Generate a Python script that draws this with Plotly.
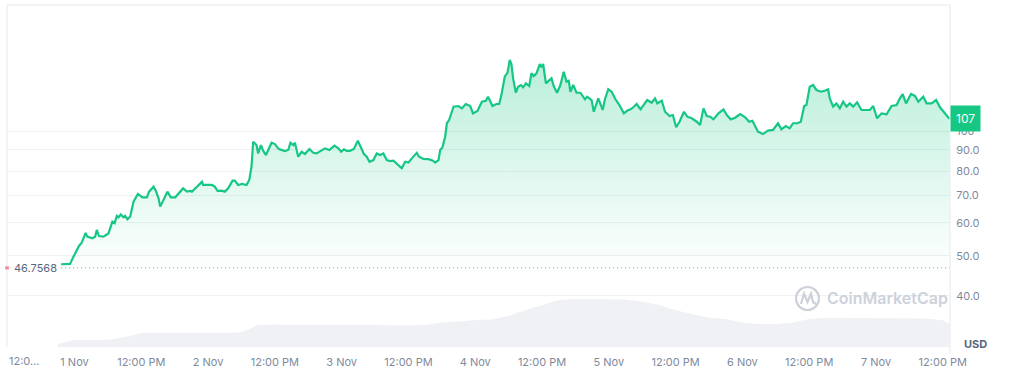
import math
import pandas as pd
import plotly.graph_objects as go

# ---------------- data ----------------
base_time = pd.Timestamp("2024-11-01 00:00")

# hours relative to 1 Nov 00:00
price_hours = [
    -2.4, -0.8, -0.2, 0.8, 1.3, 2.0, 2.3, 3.2, 3.7, 4.0, 4.4, 5.2, 6.1, 6.8, 7.2, 7.6, 7.9, 8.3, 8.8, 9.1,
    9.5, 10.0, 10.6, 11.4, 12.2, 13.0, 13.4, 14.2, 14.6, 15.1, 15.4, 16.0, 16.3, 16.7, 17.3, 18.1, 19.5, 20.2,
    20.8, 21.1, 22.0, 22.9, 23.1, 23.8, 24.7, 25.2, 25.7, 26.4, 27.0, 27.6, 28.4, 28.8, 29.4, 30.1, 30.9,
    31.4, 31.8, 32.1, 32.7, 33.0, 33.5, 33.9, 34.4, 35.4, 36.0, 36.6, 36.9, 37.8, 38.4, 38.8, 39.3, 39.6,
    40.2, 40.8, 41.4, 42.2, 42.9, 43.5, 44.2, 45.0, 45.8, 46.7, 47.4, 47.9, 48.4, 48.9, 49.5, 50.2, 50.9,
    51.4, 52.0, 52.5, 53.0, 53.7, 54.3, 54.9, 55.5, 56.1, 56.7, 57.3, 58.0, 58.8, 59.4, 60.0, 60.6, 61.5,
    61.9, 62.7, 63.6, 64.4, 64.8, 65.4, 65.7, 66.1, 66.6, 66.9, 67.3, 68.1, 69.0, 69.6, 70.3, 71.1, 71.6,
    72.4, 73.2, 73.9, 74.3, 75.1, 75.8, 76.3, 76.7, 77.3, 77.8, 78.2, 78.5, 78.8, 79.3, 79.7, 80.2, 80.6,
    81.1, 81.7, 82.1, 82.5, 83.0, 83.6, 83.9, 84.2, 84.7, 85.1, 85.7, 86.1, 86.7, 87.3, 87.9, 88.4, 88.8,
    89.1, 89.6, 90.2, 90.9, 91.7, 92.1, 92.9, 93.3, 94.1, 94.9, 95.3, 95.9, 96.5, 97.2, 97.9, 98.7, 99.3,
    99.9, 100.4, 101.0, 101.7, 102.2, 102.9, 103.7, 104.3, 104.7, 105.5, 106.1, 106.9, 107.5, 108.1, 108.7,
    109.1, 109.5, 110.1, 110.9, 111.8, 112.4, 113.0, 113.6, 114.2, 114.8, 115.7, 116.6, 117.2, 117.9, 118.7,
    119.6, 120.5, 121.2, 121.8, 122.4, 122.8, 123.7, 124.6, 125.5, 126.4, 127.0, 127.8, 128.5, 129.1, 129.9,
    130.5, 131.1, 131.5, 132.1, 132.7, 133.3, 134.1, 134.8, 135.4, 135.7, 136.3, 136.9, 137.5, 138.1, 138.7,
    139.3, 139.9, 140.6, 141.4, 142.2, 142.9, 143.5, 144.2, 145.0, 145.9, 146.8, 147.7, 148.3, 148.8, 149.4,
    150.3, 151.0, 151.6, 152.5, 153.1, 154.0, 154.8, 155.5, 156.4, 157.2,
]
prices = [
    47.7, 47.8, 49.7, 52.8, 53.8, 56.8, 55.6, 55.1, 55.6, 57.7, 55.8, 55.6, 56.6, 60.4, 59.9, 62.4, 61.9, 62.9, 61.9, 62.4,
    61.2, 62.1, 67.5, 70.5, 69.2, 69.2, 71.4, 73.4, 71.8, 68.8, 65.7, 68.4, 69.4, 71.4, 69.2, 69.2, 72.7, 71.4,
    71.7, 71.4, 73.4, 75.4, 74.1, 74.1, 74.1, 73.4, 71.7, 71.8, 71.4, 72.7, 75.9, 75.9, 74.1, 74.5, 74.1,
    76.2, 82.0, 94.2, 92.5, 88.3, 92.5, 89.6, 87.5, 93.7, 93.0, 90.8, 90.3, 89.5, 90.0, 93.7, 92.5, 93.7,
    86.7, 89.1, 88.0, 90.5, 88.6, 88.3, 89.6, 90.8, 90.0, 92.2, 90.8, 89.1, 90.3, 89.6, 89.6, 90.5, 94.8,
    91.6, 88.0, 86.7, 84.3, 85.1, 88.3, 87.5, 88.3, 85.1, 84.6, 84.8, 83.2, 81.3, 84.3, 83.9, 85.9, 88.6,
    86.7, 85.6, 85.5, 84.8, 83.9, 85.1, 90.0, 91.3, 96.9, 104.4, 106.3, 114.5, 114.9, 113.4, 116.2, 114.9, 110.3,
    111.8, 117.7, 118.3, 121.0, 114.9, 116.2, 116.2, 122.1, 135.2, 138.3, 148.4, 145.1, 134.0, 123.7, 127.9, 129.1, 127.5,
    130.3, 128.4, 137.8, 135.7, 137.8, 145.1, 142.5, 145.1, 130.3, 131.5, 134.0, 128.4, 123.7, 129.1, 139.0, 131.5, 132.2,
    124.4, 129.1, 123.7, 123.7, 119.3, 121.0, 118.8, 111.3, 119.9, 112.4, 119.3, 126.1, 124.4, 119.3, 115.5, 110.3, 111.9,
    112.8, 114.1, 116.2, 112.8, 115.5, 118.8, 117.0, 119.9, 116.6, 118.3, 111.3, 108.7, 109.3, 102.1, 105.3,
    107.9, 111.3, 108.3, 107.3, 105.3, 103.4, 113.4, 108.7, 108.3, 106.7, 110.3, 112.8, 109.3, 106.7, 107.7,
    109.9, 107.9, 105.3, 105.9, 101.5, 99.6, 98.3, 100.2, 100.6, 104.4, 100.9, 102.8, 101.5, 104.4, 104.4,
    105.3, 114.9, 115.5, 127.9, 129.1, 125.6, 124.4, 125.1, 126.1, 119.9, 114.5, 116.6, 113.4, 117.7, 114.5,
    116.6, 114.5, 117.3, 112.4, 112.4, 112.4, 114.9, 107.3, 110.3, 109.7, 114.9, 115.5, 119.9, 122.8, 116.6,
    122.8, 121.5, 117.7, 121.0, 116.6, 116.6, 118.8, 114.1, 110.3, 107.0,
]

volume_hours = [
    -3, 0, 3, 6, 9, 12, 15, 18, 21, 24, 27, 30, 33, 36, 39, 42, 45, 48, 51, 54, 57, 60, 63, 66, 69, 72,
    75, 78, 81, 84, 87, 90, 93, 96, 99, 102, 105, 108, 111, 114, 117, 120, 123, 126, 129, 132, 135, 138,
    141, 144, 147, 150, 153, 156, 157.2,
]
volumes_musd = [
    12, 29, 29, 30, 40, 57, 57, 58, 57, 58, 57, 60, 90, 92, 90, 91, 92, 90, 91, 90, 88, 88, 90, 100, 104, 111,
    113, 128, 150, 170, 192, 197, 196, 195, 194, 185, 172, 150, 135, 120, 115, 100, 94, 94, 100, 115, 120, 119,
    118, 117, 117, 118, 117, 110, 94,
]

open_price = 46.7568
last_price_label = "107"

y_tick_values = [40, 50, 60, 70, 80, 90, 100]
y_tick_text = ["40.0", "50.0", "60.0", "70.0", "80.0", "90.0", "100"]

x_tick_hours = [0, 12, 24, 36, 48, 60, 72, 84, 96, 108, 120, 132, 144, 156]
x_tick_text = ["1 Nov", "12:00 PM", "2 Nov", "12:00 PM", "3 Nov", "12:00 PM", "4 Nov",
               "12:00 PM", "5 Nov", "12:00 PM", "6 Nov", "12:00 PM", "7 Nov", "12:00 PM"]
first_tick_text = "12:0..."

x_range_hours = [-12.13, 157.3]
price_range = [30.12, 201.4]
volume_range = [0, 1400]
gradient_span = [45.0, 150.0]

# ---------------- styling ----------------
GREEN = "#16c784"
GRID = "#eff1f4"
FRAME = "#e6e8ec"
TICK = "#808a9d"
FONT = "Inter, Roboto, sans-serif"

def t(h):
    return base_time + pd.to_timedelta(h, unit="h")

price_x = [t(h) for h in price_hours]
vol_x = [t(h) for h in volume_hours]

fig = go.Figure()

fig.add_trace(go.Scatter(
    x=vol_x, y=volumes_musd, mode="lines", line=dict(width=0, color="#eef0f3"),
    fill="tozeroy", fillcolor="#eff1f4", yaxis="y", hoverinfo="skip", showlegend=False,
))

fig.add_trace(go.Scatter(
    x=price_x, y=prices, mode="lines", line=dict(color=GREEN, width=2.2),
    fill="tozeroy",
    fillgradient=dict(type="vertical",
                      start=gradient_span[0], stop=gradient_span[1],
                      colorscale=[[0, "rgba(22,199,132,0.0)"], [0.35, "rgba(22,199,132,0.10)"],
                                  [1, "rgba(22,199,132,0.30)"]]),
    yaxis="y2", showlegend=False,
))

# open-price reference line (dotted) and its faint lead-in + red marker at the left edge
fig.add_trace(go.Scatter(
    x=[price_x[0], t(x_range_hours[1])], y=[open_price, open_price], mode="lines",
    line=dict(color="#8a93a3", width=1, dash="1px,3px"), yaxis="y2",
    hoverinfo="skip", showlegend=False,
))
fig.add_trace(go.Scatter(
    x=[t(x_range_hours[0]), price_x[0]], y=[open_price, open_price], mode="lines",
    line=dict(color="rgba(234,57,67,0.15)", width=1), yaxis="y2",
    hoverinfo="skip", showlegend=False,
))
fig.add_trace(go.Scatter(
    x=[t(x_range_hours[0])], y=[open_price], mode="markers",
    marker=dict(color="#ea3943", size=3, symbol="square"), yaxis="y2", cliponaxis=False,
    hoverinfo="skip", showlegend=False,
))

fig.update_layout(
    template="none",
    width=1009, height=371,
    margin=dict(l=7, r=59, t=5, b=24, autoexpand=False),
    paper_bgcolor="white", plot_bgcolor="white",
    font=dict(family=FONT, size=11, color=TICK),
    showlegend=False,
    xaxis=dict(
        type="date", automargin=False,
        range=[t(x_range_hours[0]), t(x_range_hours[1])],
        tickvals=[t(h) for h in x_tick_hours], ticktext=x_tick_text,
        showgrid=False, zeroline=False, showline=False,
        ticks="outside", ticklen=5, tickcolor="rgba(0,0,0,0)",
        tickfont=dict(size=11, color=TICK, family=FONT),
    ),
    yaxis=dict(
        range=volume_range, visible=False, showgrid=False, zeroline=False, fixedrange=True,
        automargin=False,
    ),
    yaxis2=dict(
        type="log", overlaying="y", side="right", automargin=False,
        range=[math.log10(price_range[0]), math.log10(price_range[1])],
        tickvals=y_tick_values, ticktext=y_tick_text,
        showgrid=True, gridcolor=GRID, gridwidth=1, zeroline=False, showline=False,
        ticks="outside", ticklen=3, tickcolor="rgba(0,0,0,0)",
        tickfont=dict(size=11, color=TICK, family=FONT),
    ),
)

def px(xp):
    return (xp - 7) / 943.0

def py(yp):
    return (347 - yp) / 342.0

shapes = []
# frame lines (top, left, right)
shapes.append(dict(type="line", xref="paper", yref="paper", x0=0, x1=1, y0=1, y1=1,
                   line=dict(color=FRAME, width=1)))
shapes.append(dict(type="line", xref="paper", yref="paper", x0=0, x1=0, y0=0, y1=1,
                   line=dict(color=FRAME, width=1)))
shapes.append(dict(type="line", xref="paper", yref="paper", x0=1, x1=1, y0=-0.02, y1=1,
                   line=dict(color=FRAME, width=1)))

# watermark logo
WM = "#cdd2da"
shapes.append(dict(type="circle", xref="paper", yref="paper",
                   x0=px(796), x1=px(819), y0=py(310), y1=py(287),
                   line=dict(color=WM, width=2.2)))
pts = [(801, 304), (804, 293.5), (807.5, 302), (811, 293.5), (813, 302), (816, 304)]
path = "M " + " L ".join(f"{px(a):.5f},{py(b):.5f}" for a, b in pts)
shapes.append(dict(type="path", xref="paper", yref="paper", path=path,
                   line=dict(color=WM, width=2.2)))
fig.update_layout(shapes=shapes)

oy = math.log10(open_price)
annotations = [
    dict(text=first_tick_text, xref="paper", yref="paper", x=0, y=py(361),
         xanchor="left", yanchor="middle", showarrow=False,
         font=dict(size=11, color=TICK, family=FONT)),
    dict(text="USD", xref="paper", yref="paper", x=1, y=py(344), xshift=12,
         xanchor="left", yanchor="middle", showarrow=False,
         font=dict(size=11, color="#58667e", family=FONT, weight="bold")),
    dict(text=f"{open_price}", xref="paper", yref="y2", x=0, y=oy, xshift=5,
         xanchor="left", yanchor="middle", showarrow=False, bgcolor="rgba(255,255,255,0.85)",
         font=dict(size=11, color="#58667e", family=FONT)),
    dict(text=last_price_label, xref="paper", yref="y2", x=1, y=math.log10(prices[-1]),
         xanchor="left", yanchor="middle", showarrow=False,
         bgcolor=GREEN, borderpad=5, font=dict(size=12, color="white", family=FONT)),
    dict(text="CoinMarketCap", xref="paper", yref="paper", x=px(825), y=py(298),
         xanchor="left", yanchor="middle", showarrow=False,
         font=dict(size=16, color=WM, family=FONT, weight=600)),
]
fig.update_layout(annotations=annotations)

fig.write_html("out.html")
